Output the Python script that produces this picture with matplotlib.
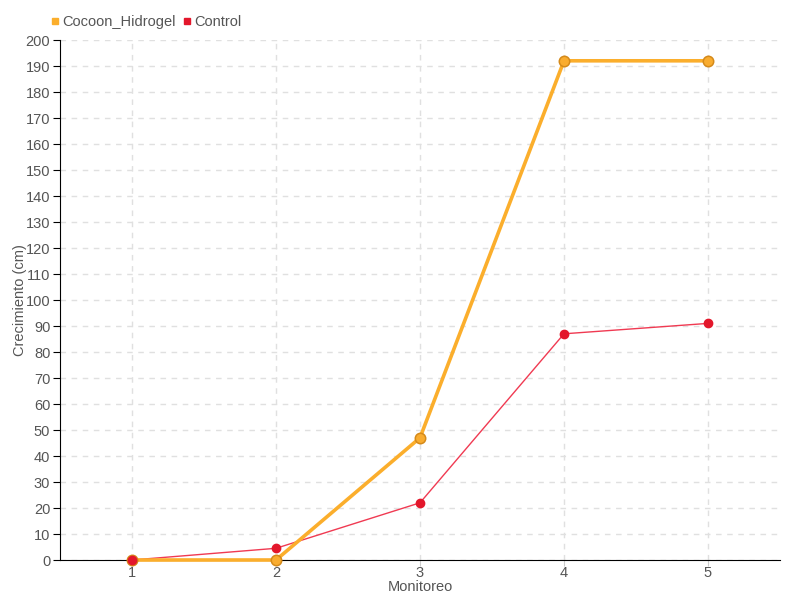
import matplotlib.pyplot as plt
from matplotlib.lines import Line2D

plt.rcParams['font.family'] = ['Liberation Sans', 'DejaVu Sans']

monitoreo = [1, 2, 3, 4, 5]
cocoon = [0, 0, 47, 192, 192]
control = [0, 4.5, 22, 87, 91]

fig = plt.figure(figsize=(8, 6), dpi=100)
ax = fig.add_axes([60 / 800, 40 / 600, 720 / 800, 520 / 600])

# linea de control debajo, puntos encima
ax.plot(monitoreo, control, color='#f03a52', lw=1, zorder=3)
ax.plot(monitoreo, cocoon, color='#fbae2c', lw=2.6, marker='o', ms=7.5,
        mfc='#f9ac2f', mec='#d58a1a', mew=1.1, zorder=4, clip_on=False)
ax.plot(monitoreo, control, ls='none', marker='o', ms=6,
        mfc='#e3172b', mec='#e3172b', zorder=5, clip_on=False)

ax.set_xlim(0.5, 5.5)
ax.set_ylim(0, 200)
ax.set_xticks(monitoreo)
ax.set_yticks(range(0, 201, 10))
ax.grid(True, color='#e0e0e0', ls=(0, (4, 4)), lw=1)
ax.set_axisbelow(True)
for s in ['top', 'right']:
    ax.spines[s].set_visible(False)
ax.spines['left'].set_color('black')
ax.spines['bottom'].set_color('black')
ax.tick_params(axis='y', length=5, color='black', labelcolor='#555555', labelsize=10.5, pad=2)
ax.tick_params(axis='x', length=4, color='#cccccc', labelcolor='#555555', labelsize=10.5, pad=0)
ax.set_xlabel('Monitoreo', color='#555555', fontsize=10.5)
ax.set_ylabel('Crecimiento (cm)', color='#555555', fontsize=10.5)
ax.xaxis.set_label_coords(0.5, -0.038)
ax.yaxis.set_label_coords(-0.046, 0.5)

handles = [Line2D([], [], ls='none', marker='s', ms=4.5, color='#fbae2c'),
           Line2D([], [], ls='none', marker='s', ms=4.5, color='#e3172b')]
fig.legend(handles, ['Cocoon_Hidrogel', 'Control'], loc='upper left',
           bbox_to_anchor=(0.045, 0.997), ncol=2, frameon=False,
           handletextpad=0.1, columnspacing=0.4, handlelength=0.8,
           labelcolor='#555555', fontsize=10.5)

fig.savefig('out.png', dpi=100)
